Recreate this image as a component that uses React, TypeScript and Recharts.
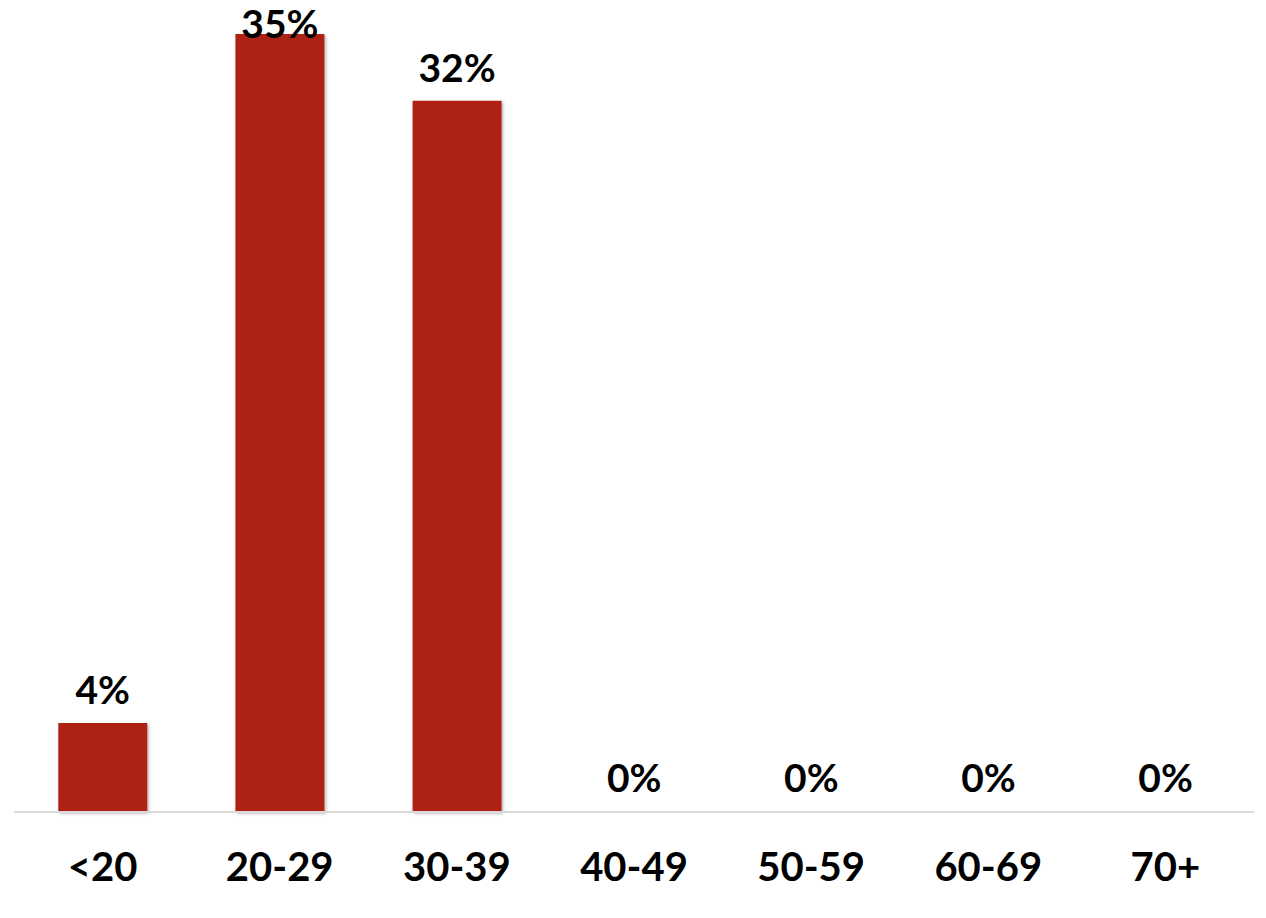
import React from 'react';
import { BarChart, Bar, XAxis, YAxis, LabelList, Cell } from 'recharts';

const categories = ['<20', '20-29', '30-39', '40-49', '50-59', '60-69', '70+'];
const shares = [4, 35, 32, 0, 0, 0, 0];

const data = categories.map((name, i) => ({ name, value: shares[i] }));

const FONT = 'Lato, "Open Sans", sans-serif';
const BAR_RED = '#ae2219';

// value label above each bar; pushed down when it would run off the top
const TopLabel = (props: any) => {
  const vb = props.viewBox || {};
  const x = Number(props.x ?? vb.x);
  const y = Number(props.y ?? vb.y);
  const width = Number(props.width ?? vb.width ?? 0);
  const height = Number(props.height ?? vb.height ?? 0);
  const top = Math.min(y, y + height);
  const baseline = Math.max(top - 19, 38);
  return (
    <text
      x={x + width / 2}
      y={baseline}
      textAnchor="middle"
      fontFamily={FONT}
      fontWeight={700}
      fontSize={39}
      fill="#000"
    >
      {`${props.value}%`}
    </text>
  );
};

const App: React.FC = () => {
  return (
    <div style={{ position: 'absolute', left: 0, top: 0, background: '#fff' }}>
      <BarChart
        width={1266}
        height={918}
        data={data}
        margin={{ top: 34, right: 12, bottom: 6, left: 14 }}
        barCategoryGap="25%"
      >
        <defs>
          <filter id="barShadow" x="-10%" y="-10%" width="130%" height="130%">
            <feDropShadow dx="1.5" dy="1.5" stdDeviation="1.5" floodColor="#000" floodOpacity="0.3" />
          </filter>
        </defs>
        <XAxis
          dataKey="name"
          height={100}
          axisLine={{ stroke: '#d9d9d9', strokeWidth: 2 }}
          tickLine={false}
          tickSize={0}
          tickMargin={41}
          interval={0}
          tick={{ fontFamily: FONT, fontWeight: 700, fontSize: 40, fill: '#000' }}
        />
        <YAxis hide domain={[0, 35]} />
        {/* minPointSize keeps zero rows so their 0% label is drawn; those cells stay invisible */}
        <Bar dataKey="value" fill={BAR_RED} minPointSize={1} filter="url(#barShadow)" isAnimationActive={false}>
          {data.map((d, i) => (
            <Cell key={`cell-${i}`} fill={d.value > 0 ? BAR_RED : 'transparent'} />
          ))}
          <LabelList dataKey="value" content={TopLabel} />
        </Bar>
      </BarChart>
    </div>
  );
};

export default App;
